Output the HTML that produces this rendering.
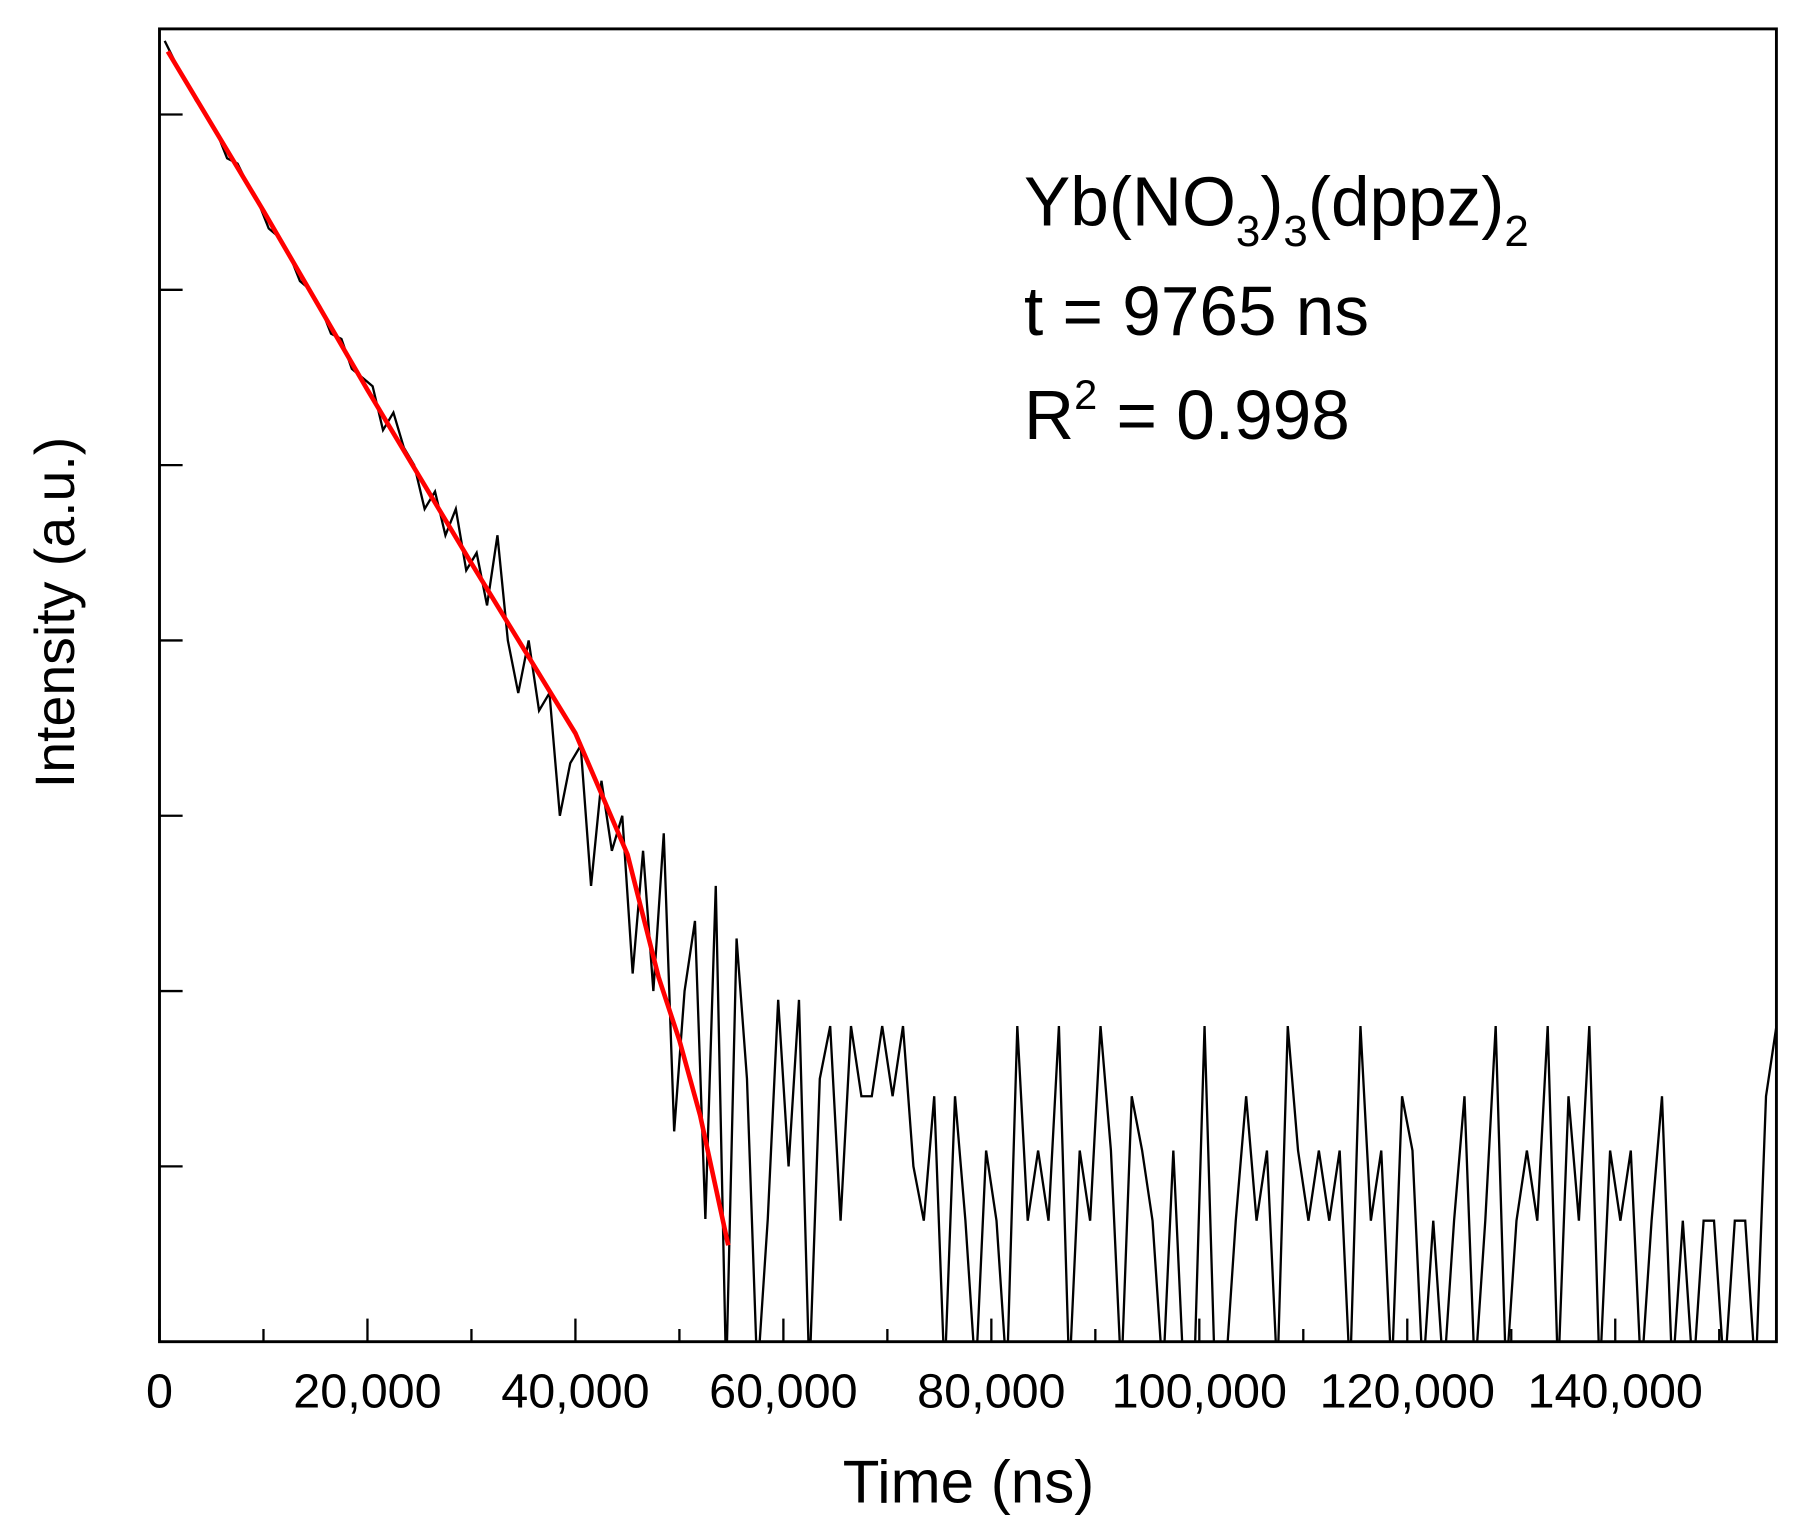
<!DOCTYPE html>
<html><head><meta charset="utf-8"><style>
html,body{margin:0;padding:0;background:#fff;width:1803px;height:1537px;overflow:hidden}
svg{display:block}
text{font-family:"Liberation Sans",Arial,sans-serif;fill:#000}
</style></head><body>
<svg id="chart" width="1803" height="1537" viewBox="0 0 1560 1330" preserveAspectRatio="none" xmlns="http://www.w3.org/2000/svg">
<defs><clipPath id="pc"><rect x="138" y="25" width="1399" height="1136"/></clipPath></defs>
<g id="axes"></g>
<g id="series" clip-path="url(#pc)"></g>
<text transform="translate(64,530) rotate(-90)" text-anchor="middle" font-size="48">Intensity (a.u.)</text>
<text x="838" y="1300" text-anchor="middle" font-size="52">Time (ns)</text>
<text x="886" y="195" font-size="60">Yb(NO<tspan font-size="38" dy="18">3</tspan><tspan dy="-18">)</tspan><tspan font-size="38" dy="18">3</tspan><tspan dy="-18">(dppz)</tspan><tspan font-size="38" dy="18">2</tspan></text>
<text x="886" y="290" font-size="60">t = 9765 ns</text>
<text x="886" y="380" font-size="60">R<tspan font-size="36" dy="-26">2</tspan><tspan dy="26"> = 0.998</tspan></text>
</svg>
<script>
const xTicks=[0,20000,40000,60000,80000,100000,120000,140000];
const xTickLabels=["0","20,000","40,000","60,000","80,000","100,000","120,000","140,000"];
const yTicks=[1,2,3,4,5,6,7];
const dataStep=1000;
const dataValues=[7.42,7.3,7.2,7.08,7.0,6.9,6.75,6.72,6.6,6.5,6.35,6.3,6.2,6.05,6.0,5.9,5.75,5.72,5.55,5.5,5.45,5.2,5.3,5.1,5.0,4.75,4.85,4.6,4.75,4.4,4.5,4.2,4.6,4.0,3.7,4.0,3.6,3.7,3.0,3.3,3.4,2.6,3.2,2.8,3.0,2.1,2.8,2.0,2.9,1.2,2.0,2.4,0.7,2.6,-2,2.3,1.5,-2,0.7,
1.95,1.0,1.95,-2,1.5,1.8,0.69,1.8,1.4,1.4,1.8,1.4,1.8,1.0,0.69,1.4,-2,1.4,0.69,-2,1.09,0.69,-2,1.8,0.69,1.09,0.69,1.8,-2,1.09,0.69,1.8,1.09,-2,1.4,1.09,0.69,-2,1.09,-2,-2,1.8,-2,-2,0.69,1.4,0.69,1.09,-2,1.8,1.09,0.69,1.09,0.69,1.09,-2,1.8,0.69,1.09,-2,1.4,1.09,-2,0.69,-2,0.69,1.4,-2,0.69,1.8,-2,0.69,1.09,0.69,1.8,-2,1.4,0.69,1.8,-2,1.09,0.69,1.09,-2,0.69,1.4,-2,0.69,-2,0.69,0.69,-2,0.69,0.69,-2,1.4,1.8];
const fitTimes=[800,10000,20000,30000,40000,45000,48000,50000,52000,54700];
const fitValues=[7.36,6.45,5.43,4.44,3.47,2.78,2.08,1.72,1.29,0.55];
const NS='http://www.w3.org/2000/svg';
const X0=138,X1=1537,Y0=1161,Y1=25,XMAX=155500,YU=151.7;
const sx=t=>X0+(t/XMAX)*(X1-X0);
const sy=v=>Y0-Math.max(v,-0.2)*YU;
function mk(tag,attrs,parent){const e=document.createElementNS(NS,tag);for(const k in attrs)e.setAttribute(k,attrs[k]);parent.appendChild(e);return e;}
const axes=document.getElementById('axes');
const frame=mk('rect',{x:X0,y:Y1,width:X1-X0,height:Y0-Y1,fill:'none',stroke:'#000','stroke-width':2.5},axes);


xTicks.forEach((t,i)=>{
  const tk=mk('line',{x1:sx(t),x2:sx(t),y1:Y0,y2:Y0-20,stroke:'#000','stroke-width':2},axes);
  
  
  const lb=mk('text',{x:sx(t),y:1218,'text-anchor':'middle','font-size':42},axes);
  lb.textContent=xTickLabels[i];
  
  
  const mt=t+10000;
  if(mt<XMAX){const m=mk('line',{x1:sx(mt),x2:sx(mt),y1:Y0,y2:Y0-11,stroke:'#000','stroke-width':2},axes);
  
  }
});
yTicks.forEach(v=>{
  const tk=mk('line',{x1:X0,x2:X0+20,y1:sy(v),y2:sy(v),stroke:'#000','stroke-width':2},axes);
  
  
});
const series=document.getElementById('series');
const dp=dataValues.map((v,i)=>sx(i*dataStep+500).toFixed(1)+','+sy(v).toFixed(1)).join(' ');
const dl=mk('polyline',{points:dp,fill:'none',stroke:'#000','stroke-width':2,'stroke-linejoin':'miter'},series);


const fp=fitValues.map((v,i)=>sx(fitTimes[i]).toFixed(1)+','+sy(v).toFixed(1)).join(' ');
const fl=mk('polyline',{points:fp,fill:'none',stroke:'#ff0000','stroke-width':4,'stroke-linejoin':'round'},series);


</script>
</body></html>
